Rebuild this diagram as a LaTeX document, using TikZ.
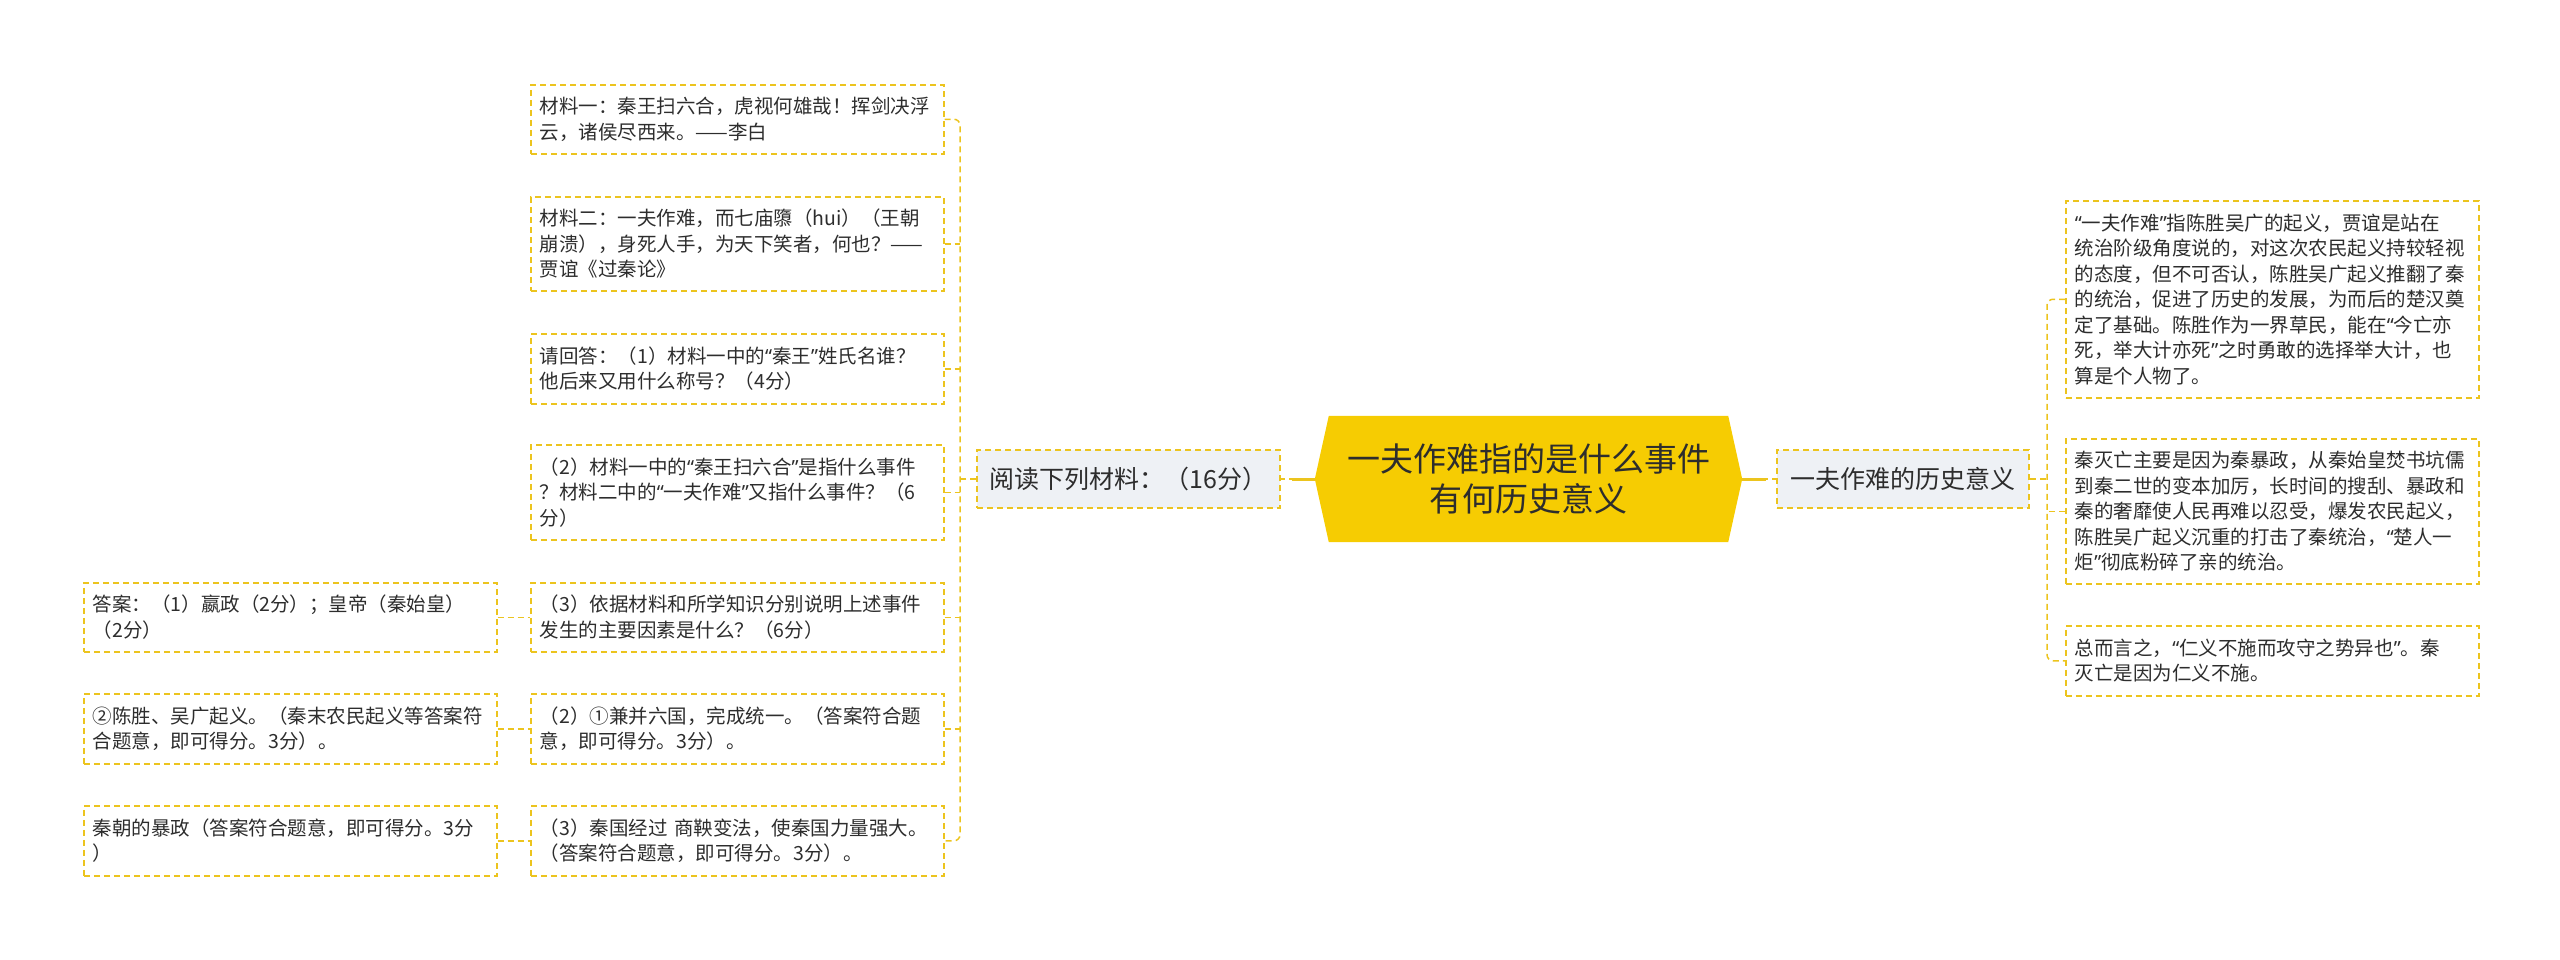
\documentclass[tikz,border=0pt]{standalone}
\usepackage{fontspec}
\setmainfont{Noto Sans CJK SC}
\newfontfamily\qfont{Noto Sans}
\newcommand{\myoq}{{\qfont “}}
\newcommand{\mycq}{{\qfont ”}}
\usetikzlibrary{backgrounds,calc}
\definecolor{ylw}{RGB}{236,196,30}
\definecolor{mainfill}{RGB}{246,204,2}
\definecolor{gfill}{RGB}{238,241,245}
\definecolor{txt}{RGB}{45,45,45}
\begin{document}
\begin{tikzpicture}[x=1pt,y=-1pt,
  tbox/.style={draw=ylw, line width=1.5pt, dash pattern=on 6pt off 4pt, anchor=north west,
    text width=395pt, inner xsep=9pt, inner ysep=0pt, align=left, text=txt,
    font=\fontsize{19.5pt}{25.5pt}\selectfont},
  sub/.style={draw=ylw, fill=gfill, line width=1.5pt, dash pattern=on 6pt off 4pt,
    minimum height=58pt, inner xsep=0pt, inner ysep=0pt, text=txt, align=center,
    font=\fontsize{25pt}{30pt}\selectfont},
  hub/.style={minimum width=399pt, minimum height=126pt, inner sep=0pt, align=center,
    text=txt, font=\fontsize{33pt}{40pt}\selectfont},
  conn/.style={draw=ylw, line width=1.5pt, dash pattern=on 6pt off 4pt},
  thickc/.style={draw=ylw, line width=3pt}]
\useasboundingbox (0,0) rectangle (2560,959);

% central
\node[hub] (main) at (1528.5,479) {一夫作难指的是什么事件\\有何历史意义};
\coordinate (mainL) at ([xshift=-14pt]main.west);
\coordinate (mainR) at ([xshift=14pt]main.east);
\begin{scope}[on background layer]
\fill[mainfill] (main.north west) -- (main.north east) -- (mainR) -- (main.south east)
  -- (main.south west) -- (mainL) -- cycle;
\end{scope}

\node[sub, minimum width=303pt] (read) at (1128.5,479) {阅读下列材料：（16分）};
\node[sub, minimum width=252pt] (mean) at (1903,479) {一夫作难的历史意义};

% left column
\node[tbox, minimum height=69pt] (b1) at (530,84) {材料一：秦王扫六合，虎视何雄哉！挥剑决浮\\云，诸侯尽西来。——李白};
\node[tbox, minimum height=94pt] (b2) at (530,196) {材料二：一夫作难，而七庙隳（hui）（王朝\\崩溃），身死人手，为天下笑者，何也？——\\贾谊《过秦论》};
\node[tbox, minimum height=70pt] (b3) at (530,333) {请回答：（1）材料一中的\myoq 秦王\mycq 姓氏名谁？\\他后来又用什么称号？（4分）};
\node[tbox, minimum height=95pt] (b4) at (530,444) {（2）材料一中的\myoq 秦王扫六合\mycq 是指什么事件\\？材料二中的\myoq 一夫作难\mycq 又指什么事件？（6\\分）};
\node[tbox, minimum height=69pt] (b5) at (530,582) {（3）依据材料和所学知识分别说明上述事件\\发生的主要因素是什么？（6分）};
\node[tbox, minimum height=70pt] (b6) at (530,693) {（2）①兼并六国，完成统一。（答案符合题\\意，即可得分。3分）。};
\node[tbox, minimum height=70pt] (b7) at (530,805) {（3）秦国经过~商鞅变法，使秦国力量强大。\\（答案符合题意，即可得分。3分）。};

% answers
\node[tbox, minimum height=69pt] (a1) at (83,582) {答案：（1）嬴政（2分）；皇帝（秦始皇）\\（2分）};
\node[tbox, minimum height=70pt] (a2) at (83,693) {②陈胜、吴广起义。（秦末农民起义等答案符\\合题意，即可得分。3分）。};
\node[tbox, minimum height=70pt] (a3) at (83,805) {秦朝的暴政（答案符合题意，即可得分。3分\\）};

% right column
\node[tbox, minimum height=197pt] (r1) at (2065,200) {\myoq 一夫作难\mycq 指陈胜吴广的起义，贾谊是站在\\统治阶级角度说的，对这次农民起义持较轻视\\的态度，但不可否认，陈胜吴广起义推翻了秦\\的统治，促进了历史的发展，为而后的楚汉奠\\定了基础。陈胜作为一界草民，能在\myoq 今亡亦\\死，举大计亦死\mycq 之时勇敢的选择举大计，也\\算是个人物了。};
\node[tbox, minimum height=145pt] (r2) at (2065,438) {秦灭亡主要是因为秦暴政，从秦始皇焚书坑儒\\到秦二世的变本加厉，长时间的搜刮、暴政和\\秦的奢靡使人民再难以忍受，爆发农民起义，\\陈胜吴广起义沉重的打击了秦统治，\myoq 楚人一\\炬\mycq 彻底粉碎了亲的统治。};
\node[tbox, minimum height=70pt] (r3) at (2065,625) {总而言之，\myoq 仁义不施而攻守之势异也\mycq 。秦\\灭亡是因为仁义不施。};

% connectors: center
\draw[conn] (mainL) -- (read.east);
\draw[thickc, shorten >=11pt] (mainL) -- (read.east);
\draw[conn] (mainR) -- (mean.west);
\draw[thickc, shorten >=10pt] (mainR) -- (mean.west);

% left trunk
\coordinate (lt) at (960,479);
\draw[conn] (read.west) -- (lt);
\draw[conn, rounded corners=6pt] (b1.east) -- (b1.east -| lt) -- (b7.east -| lt) -- (b7.east);
\foreach \b in {b2,b3,b4,b5,b6} \draw[conn] (\b.east) -- (\b.east -| lt);

% answers
\draw[conn] (a1.east) -- (b5.west);
\draw[conn] (a2.east) -- (b6.west);
\draw[conn] (a3.east) -- (b7.west);

% right trunk
\coordinate (rt) at (2047,479);
\draw[conn] (mean.east) -- (rt);
\draw[conn, rounded corners=6pt] (r1.west) -- (r1.west -| rt) -- (r3.west -| rt) -- (r3.west);
\draw[conn] (r2.west) -- (r2.west -| rt);
\end{tikzpicture}
\end{document}
